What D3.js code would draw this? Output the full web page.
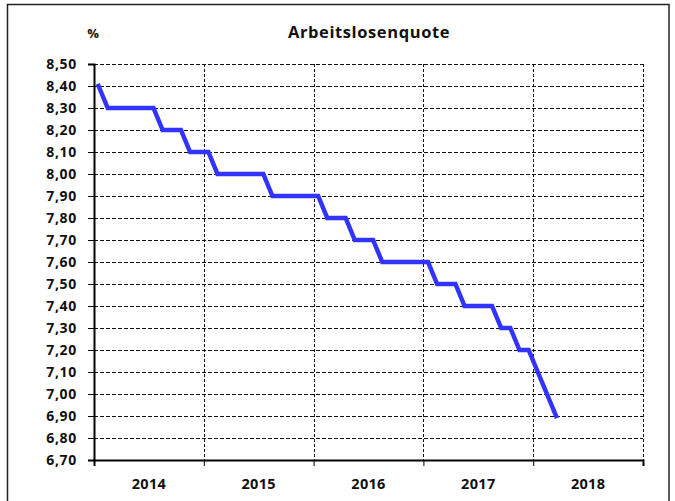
<!DOCTYPE html>
<html>
<head>
<meta charset="utf-8">
<script src="https://cdn.jsdelivr.net/npm/d3@7"></script>
<style>
  body { margin: 0; background: #fff; }
  text { font-family: "Open Sans", "DejaVu Sans", sans-serif; font-weight: bold; fill: #111; }
</style>
</head>
<body>
<div id="chart"></div>
<script>
const width = 675;
const height = 501;

// Arbeitslosenquote, monatlich ab Januar 2014
const years = [2014, 2015, 2016, 2017, 2018];
const rate = [
  8.4, 8.3, 8.3, 8.3, 8.3, 8.3, 8.3, 8.2, 8.2, 8.2, 8.1, 8.1,   // 2014
  8.1, 8.0, 8.0, 8.0, 8.0, 8.0, 8.0, 7.9, 7.9, 7.9, 7.9, 7.9,   // 2015
  7.9, 7.8, 7.8, 7.8, 7.7, 7.7, 7.7, 7.6, 7.6, 7.6, 7.6, 7.6,   // 2016
  7.6, 7.5, 7.5, 7.5, 7.4, 7.4, 7.4, 7.4, 7.3, 7.3, 7.2, 7.2,   // 2017
  7.1, 7.0, 6.9                                                 // 2018
];
const yTicks = d3.range(6.7, 8.501, 0.1);

const margin = {left: 94, top: 64, right: 32, bottom: 41};

const de = d3.formatLocale({decimal: ",", thousands: ".", grouping: [3], currency: ["", "€"]});
const fmt = de.format(".2f");

const svg = d3.select("#chart").append("svg")
    .attr("width", width)
    .attr("height", height);

svg.append("rect")
    .attr("width", width).attr("height", height)
    .attr("fill", "#fff");

// outer frame
svg.append("rect")
    .attr("x", 7.5).attr("y", 4.5)
    .attr("width", 661.5).attr("height", 500)
    .attr("fill", "none")
    .attr("stroke", "#222")
    .attr("stroke-width", 1.5);

const x = d3.scaleLinear()
    .domain([0, years.length * 12])
    .range([margin.left, width - margin.right]);

const y = d3.scaleLinear()
    .domain([6.7, 8.5])
    .range([height - margin.bottom, margin.top]);

// horizontal grid
svg.append("g")
    .selectAll("line")
    .data(yTicks.slice(1))
    .enter().append("line")
    .attr("x1", x(0)).attr("x2", x(60))
    .attr("y1", d => Math.round(y(d)) + 0.5)
    .attr("y2", d => Math.round(y(d)) + 0.5)
    .attr("stroke", "#111")
    .attr("stroke-width", 1)
    .attr("stroke-dasharray", "4,2");

// vertical grid at year boundaries
svg.append("g")
    .selectAll("line")
    .data(d3.range(1, years.length + 1))
    .enter().append("line")
    .attr("x1", d => Math.round(x(d * 12)) + 0.5)
    .attr("x2", d => Math.round(x(d * 12)) + 0.5)
    .attr("y1", y(8.5))
    .attr("y2", y(6.7))
    .attr("stroke", "#111")
    .attr("stroke-width", 1)
    .attr("stroke-dasharray", "3,2");

// y axis
const yAxis = svg.append("g")
    .attr("transform", "translate(" + x(0) + ",0)")
    .call(d3.axisLeft(y).tickValues(yTicks).tickFormat(fmt).tickSize(6).tickPadding(11));
yAxis.select(".domain").attr("stroke", "#000").attr("stroke-width", 2);
yAxis.selectAll(".tick line").attr("stroke", "#000").attr("stroke-width", 1);
yAxis.selectAll(".tick text")
    .attr("font-size", 14)
    .attr("letter-spacing", 0.7)
    .style("font-family", "'Open Sans', sans-serif");

// x axis
const xAxis = svg.append("g")
    .attr("transform", "translate(0," + y(6.7) + ")")
    .call(d3.axisBottom(x).tickValues(d3.range(0, years.length * 12 + 1, 12)).tickFormat("").tickSize(6));
xAxis.select(".domain").attr("stroke", "#000").attr("stroke-width", 2);
xAxis.selectAll(".tick line").attr("stroke", "#000").attr("stroke-width", 1);

svg.append("g")
    .selectAll("text")
    .data(years)
    .enter().append("text")
    .attr("x", (d, i) => x(i * 12 + 6))
    .attr("y", 489)
    .attr("text-anchor", "middle")
    .attr("font-size", 14.5)
    .attr("letter-spacing", 0.3)
    .text(d => d);

// line
const line = d3.line()
    .x((d, i) => x(i + 0.5))
    .y(d => y(d));

svg.append("path")
    .datum(rate)
    .attr("d", line)
    .attr("fill", "none")
    .attr("stroke", "#3333ff")
    .attr("stroke-width", 4.5)
    .attr("stroke-linejoin", "miter")
    .attr("stroke-linecap", "square");

// titles
svg.append("text")
    .attr("x", 369).attr("y", 38)
    .attr("text-anchor", "middle")
    .attr("font-size", 16.5)
    .attr("letter-spacing", 0.6)
    .text("Arbeitslosenquote");

svg.append("text")
    .attr("x", 93).attr("y", 38)
    .attr("text-anchor", "middle")
    .attr("font-size", 13)
    .text("%");
</script>
</body>
</html>
